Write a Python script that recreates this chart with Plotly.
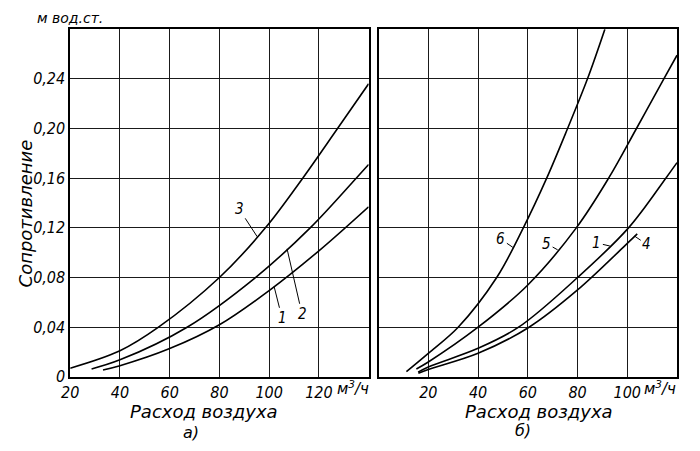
import numpy as np
import plotly.graph_objects as go

# Left panel (a): curves 1, 2, 3
xa3 = [20, 40, 55.5, 80, 98.5, 113.5, 127.5, 140]
ya3 = [0.007, 0.021, 0.040, 0.080, 0.120, 0.160, 0.200, 0.236]
xa2 = [28.6, 40, 67, 94.5, 116.5, 135, 140]
ya2 = [0.0064, 0.0137, 0.040, 0.080, 0.120, 0.160, 0.171]
xa1 = [33.2, 40, 60, 80, 100, 120, 140]
ya1 = [0.0056, 0.009, 0.0228, 0.042, 0.0695, 0.1015, 0.137]

# Right panel (b): curves 6, 5, 1, 4
xb6 = [11.2, 20, 32, 47.5, 58.2, 67.6, 76, 84, 91]
yb6 = [0.0043, 0.019, 0.040, 0.080, 0.120, 0.160, 0.200, 0.240, 0.280]
xb5 = [15.2, 20, 40, 60, 79.5, 92.5, 103.7, 114.7, 120]
yb5 = [0.0064, 0.012, 0.040, 0.074, 0.120, 0.160, 0.200, 0.240, 0.259]
xb1 = [15.9, 20, 40, 56.3, 80, 100.5, 115.5, 120]
yb1 = [0.0038, 0.008, 0.023, 0.040, 0.080, 0.120, 0.160, 0.1725]
xb4 = [16, 20, 40, 60.5, 80, 100, 104]
yb4 = [0.003, 0.006, 0.019, 0.040, 0.070, 0.1075, 0.1152]

# Tick labels
y_ticks = [0, 0.04, 0.08, 0.12, 0.16, 0.20, 0.24]
y_labels = ['0', '0,04', '0,08', '0,12', '0,16', '0,20', '0,24']
xa_ticks = [20, 40, 60, 80, 100, 120]
xb_ticks = [20, 40, 60, 80, 100]

FONT = 'DejaVu Sans Condensed, DejaVu Sans'
TXT = dict(family=FONT, size=16, color='black', style='italic')

# Page body keeps an 8px margin and the photo comes out slightly squeezed,
# so reference pixel positions are mapped through these factors.
OFF = 8
SX, DX = 0.992, 5.6
SY = 461 / 451
FW, FH = 684, 445

def fx(px):
    return ((px - DX) / SX - OFF) / FW

def fy(py):
    return 1 - (py * SY - OFF) / FH

fig = go.Figure()

left = [(xa3, ya3), (xa2, ya2), (xa1, ya1)]
right = [(xb6, yb6), (xb5, yb5), (xb1, yb1), (xb4, yb4)]
for xs, ys in left:
    fig.add_trace(go.Scatter(x=xs, y=ys, mode='lines', line=dict(color='black', width=1.6, shape='spline'),
                             xaxis='x', yaxis='y', showlegend=False, hoverinfo='skip'))
for xs, ys in right:
    fig.add_trace(go.Scatter(x=xs, y=ys, mode='lines', line=dict(color='black', width=1.6, shape='spline'),
                             xaxis='x2', yaxis='y2', showlegend=False, hoverinfo='skip'))

# Curve numbers with short leader lines (text, axes, curve, x on curve, offset px)
curve_labels = [
    ('3', 'x', 'y', (xa3, ya3), 95.2, -18, -27),
    ('1', 'x', 'y', (xa1, ya1), 102, 8, 31),
    ('2', 'x', 'y', (xa2, ya2), 107.2, 15, 64),
    ('6', 'x2', 'y2', (xb6, yb6), 54, -12, -8),
    ('5', 'x2', 'y2', (xb5, yb5), 72, -11, -6),
    ('1', 'x2', 'y2', (xb1, yb1), 93, -13, -3),
    ('4', 'x2', 'y2', (xb4, yb4), 103, 12, 8),
]
for text, xr, yr, (xs, ys), xc, dx, dy in curve_labels:
    fig.add_annotation(x=xc, y=float(np.interp(xc, xs, ys)), xref=xr, yref=yr, text=text,
                       showarrow=True, arrowhead=0, arrowwidth=1, arrowcolor='black',
                       ax=dx, ay=dy * SY, font=dict(TXT, size=15))

# Free text: units, axis titles, panel letters
free_text = [
    ('м вод.ст.', 67, 18, 0, 14),
    ('Сопротивление', 22, 213, -90, 18),
    ('Расход воздуха', 202, 412, 0, 18),
    ('Расход воздуха', 538, 412, 0, 18),
    ('а)', 188, 433, 0, 16),
    ('б)', 522, 431, 0, 16),
    ('м<sup>3</sup>/ч', 351, 388, 0, 15),
    ('м<sup>3</sup>/ч', 660, 388, 0, 15),
]
for text, px, py, ang, sz in free_text:
    fig.add_annotation(x=fx(px), y=fy(py), xref='paper', yref='paper', text=text,
                       showarrow=False, textangle=ang, xanchor='center', yanchor='middle',
                       font=dict(family='DejaVu Sans', size=sz, color='black', style='italic'))

grid = dict(showgrid=True, gridcolor='#1a1a1a', gridwidth=1, zeroline=False,
            showline=True, mirror=True, linecolor='black', linewidth=1.6,
            ticks='', tickfont=TXT)

fig.update_layout(
    width=FW, height=FH,
    margin=dict(l=0, r=0, t=0, b=0),
    paper_bgcolor='white', plot_bgcolor='white',
    xaxis=dict(domain=[fx(67), fx(367)], range=[20, 140], tickmode='array',
               tickvals=xa_ticks, ticktext=[str(v) for v in xa_ticks], anchor='y', **grid),
    yaxis=dict(domain=[fy(377), fy(29)], range=[0, 0.28], tickmode='array',
               tickvals=y_ticks, ticktext=y_labels, anchor='x', **grid),
    xaxis2=dict(domain=[fx(377), fx(677)], range=[0, 120], tickmode='array',
                tickvals=xb_ticks, ticktext=[str(v) for v in xb_ticks], anchor='y2', **grid),
    yaxis2=dict(domain=[fy(377), fy(29)], range=[0, 0.28], tickmode='array',
                tickvals=y_ticks, showticklabels=False, anchor='x2', **grid),
)

fig.write_html("out.html")
